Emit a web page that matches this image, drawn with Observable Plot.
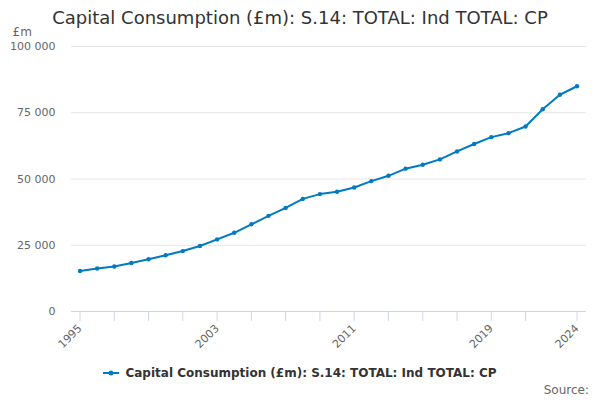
<!DOCTYPE html>
<html>
<head>
<meta charset="utf-8">
<script src="https://cdn.jsdelivr.net/npm/d3@7"></script>
<script src="https://cdn.jsdelivr.net/npm/@observablehq/plot@0.6"></script>
<style>
  html, body { margin: 0; padding: 0; background: #fff; }
  #wrap { position: relative; width: 600px; height: 400px; font-family: "DejaVu Sans", sans-serif; overflow: hidden; }
  #title { position: absolute; left: 0; width: 600px; top: 6px; text-align: center; font-size: 18px; line-height: 24px; color: #333; z-index: 2; }
  #legend { position: absolute; left: 0; width: 600px; top: 364px; text-align: center; font-size: 12px; font-weight: bold; color: #333; line-height: 18px; z-index: 2; }
  #legend svg { vertical-align: middle; margin-right: 6px; position: relative; top: -1px; }
  #source { position: absolute; right: 11px; top: 383px; font-size: 12px; color: #666; z-index: 2; }
</style>
</head>
<body>
<div id="wrap">
  <div id="title"></div>
  <div id="chart"></div>
  <div id="legend"></div>
  <div id="source"></div>
</div>
<script>
const titleText = "Capital Consumption (£m): S.14: TOTAL: Ind TOTAL: CP";
const seriesName = "Capital Consumption (£m): S.14: TOTAL: Ind TOTAL: CP";
const unitLabel = "£m";
const sourceText = "Source:";
const years = [1995, 1996, 1997, 1998, 1999, 2000, 2001, 2002, 2003, 2004,
               2005, 2006, 2007, 2008, 2009, 2010, 2011, 2012, 2013, 2014,
               2015, 2016, 2017, 2018, 2019, 2020, 2021, 2022, 2023, 2024];
const values = [15300, 16200, 17000, 18300, 19700, 21200, 22800, 24700, 27200, 29700,
                32900, 36100, 39100, 42500, 44300, 45200, 46800, 49200, 51200, 53900,
                55400, 57400, 60400, 63200, 65800, 67300, 69800, 76300, 81800, 85000];
const yTicks = [0, 25000, 50000, 75000, 100000];
const xTicks = [1995, 1997, 1999, 2001, 2003, 2005, 2007, 2009, 2011, 2013, 2015, 2017, 2019, 2021, 2024];
const xLabels = [1995, 2003, 2011, 2019, 2024];
const lineColor = "#007ac3";

const data = years.map((year, i) => ({year, value: values[i]}));
const fmt = d => d3.format(",")(d).replace(/,/g, " ");

document.getElementById("title").textContent = titleText;
document.getElementById("source").textContent = sourceText;
document.getElementById("legend").innerHTML =
  `<svg width="16" height="10"><line x1="0" y1="5" x2="16" y2="5" stroke="${lineColor}" stroke-width="2"/><circle cx="8" cy="5" r="2.5" fill="${lineColor}"/></svg>` +
  `<span></span>`;
document.querySelector("#legend span").textContent = seriesName;

const chart = Plot.plot({
  width: 600,
  height: 360,
  marginTop: 46,
  marginBottom: 49,
  marginLeft: 71,
  marginRight: 14,
  style: { fontFamily: "DejaVu Sans, sans-serif", background: "transparent", overflow: "visible" },
  x: { domain: [1995, 2024], insetLeft: 8.5, insetRight: 9.5 },
  y: { domain: [0, 100000] },
  marks: [
    Plot.gridY(yTicks, { stroke: "#e6e6e6", strokeOpacity: 1 }),
    Plot.axisY(yTicks, { tickSize: 0, tickPadding: 16, tickFormat: fmt, fontSize: 11, fill: "#666", label: null }),
    Plot.text([unitLabel], { frameAnchor: "top-left", lineAnchor: "middle", dx: -59, dy: -14, textAnchor: "start", fontSize: 12, fill: "#666" }),
    Plot.ruleY([0], { stroke: "#ccd6eb" }),
    Plot.axisX(xTicks, { tickSize: 10, stroke: "#ccd6eb", strokeOpacity: 1, fill: "#666", fontSize: 11,
      tickRotate: -45, tickPadding: 5, tickFormat: d => xLabels.includes(d) ? String(d) : "", label: null }),
    Plot.line(data, { x: "year", y: "value", stroke: lineColor, strokeWidth: 2 }),
    Plot.dot(data, { x: "year", y: "value", r: 2.2, fill: lineColor, stroke: null })
  ]
});
document.getElementById("chart").appendChild(chart);
</script>
</body>
</html>
